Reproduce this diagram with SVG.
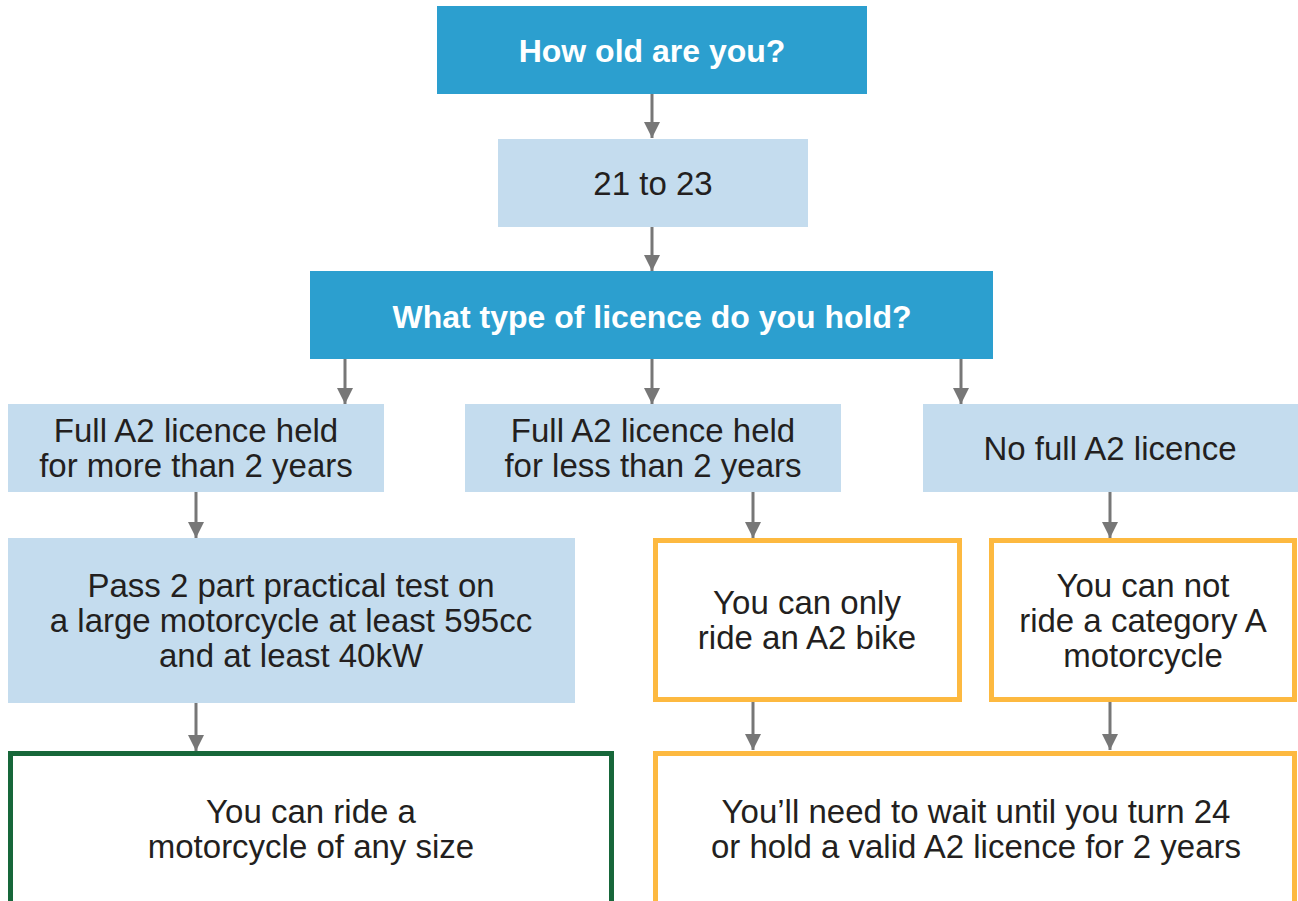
<svg xmlns="http://www.w3.org/2000/svg" width="1298" height="901" viewBox="0 0 1298 901">
<style>
.q{fill:#2c9fcf}
.a{fill:#c4dcee}
.o{fill:#ffffff;stroke:#fdb940;stroke-width:5}
.g{fill:#ffffff;stroke:#17673a;stroke-width:5}
.t{font-family:"Liberation Sans",Arial,sans-serif;font-size:33px;fill:#231f20;text-anchor:middle}
.b{font-family:"Liberation Sans",Arial,sans-serif;font-size:32px;font-weight:bold;fill:#ffffff;text-anchor:middle}
.c{stroke:#777777;stroke-width:3;fill:none}
</style>
<defs>
<marker id="arr" markerUnits="userSpaceOnUse" markerWidth="16" markerHeight="17" refX="16" refY="8" orient="auto" viewBox="0 0 16 16">
<path d="M0,0 L16,8 L0,16 Z" fill="#777777"/>
</marker>
</defs>
<g id="connectors">
<line class="c" x1="652" y1="94" x2="652" y2="138" marker-end="url(#arr)"/>
<line class="c" x1="652" y1="227" x2="652" y2="271" marker-end="url(#arr)"/>
<line class="c" x1="345" y1="359" x2="345" y2="404" marker-end="url(#arr)"/>
<line class="c" x1="652" y1="359" x2="652" y2="404" marker-end="url(#arr)"/>
<line class="c" x1="961" y1="359" x2="961" y2="404" marker-end="url(#arr)"/>
<line class="c" x1="196" y1="492" x2="196" y2="538" marker-end="url(#arr)"/>
<line class="c" x1="753" y1="492" x2="753" y2="538" marker-end="url(#arr)"/>
<line class="c" x1="1110" y1="492" x2="1110" y2="538" marker-end="url(#arr)"/>
<line class="c" x1="196" y1="703" x2="196" y2="751" marker-end="url(#arr)"/>
<line class="c" x1="753" y1="702" x2="753" y2="750" marker-end="url(#arr)"/>
<line class="c" x1="1110" y1="702" x2="1110" y2="750" marker-end="url(#arr)"/>
</g>
<g id="n-age">
<rect class="q" x="437" y="6" width="430" height="88"/>
<text class="b" x="652" y="62">How old are you?</text>
</g>
<g id="n-21to23">
<rect class="a" x="498" y="139" width="310" height="88"/>
<text class="t" x="653" y="195">21 to 23</text>
</g>
<g id="n-licence">
<rect class="q" x="310" y="271" width="683" height="88"/>
<text class="b" x="652" y="328">What type of licence do you hold?</text>
</g>
<g id="n-more2">
<rect class="a" x="8" y="404" width="376" height="88"/>
<text class="t" x="196" y="442">Full A2 licence held</text>
<text class="t" x="196" y="477">for more than 2 years</text>
</g>
<g id="n-less2">
<rect class="a" x="465" y="404" width="376" height="88"/>
<text class="t" x="653" y="442">Full A2 licence held</text>
<text class="t" x="653" y="477">for less than 2 years</text>
</g>
<g id="n-none">
<rect class="a" x="923" y="404" width="375" height="88"/>
<text class="t" x="1110" y="460">No full A2 licence</text>
</g>
<g id="n-pass">
<rect class="a" x="8" y="538" width="567" height="165"/>
<text class="t" x="291" y="597">Pass 2 part practical test on</text>
<text class="t" x="291" y="632">a large motorcycle at least 595cc</text>
<text class="t" x="291" y="667">and at least 40kW</text>
</g>
<g id="n-onlyA2">
<rect class="o" x="655.5" y="540.5" width="304" height="159"/>
<text class="t" x="807" y="614">You can only</text>
<text class="t" x="807" y="649">ride an A2 bike</text>
</g>
<g id="n-cannot">
<rect class="o" x="991.5" y="540.5" width="303" height="159"/>
<text class="t" x="1143" y="597">You can not</text>
<text class="t" x="1143" y="632">ride a category A</text>
<text class="t" x="1143" y="667">motorcycle</text>
</g>
<g id="n-anysize">
<rect class="g" x="10.5" y="753.5" width="601" height="200"/>
<text class="t" x="311" y="823">You can ride a</text>
<text class="t" x="311" y="858">motorcycle of any size</text>
</g>
<g id="n-wait">
<rect class="o" x="655.5" y="753.5" width="639" height="200"/>
<text class="t" x="976" y="823">You’ll need to wait until you turn 24</text>
<text class="t" x="976" y="858">or hold a valid A2 licence for 2 years</text>
</g>
</svg>
